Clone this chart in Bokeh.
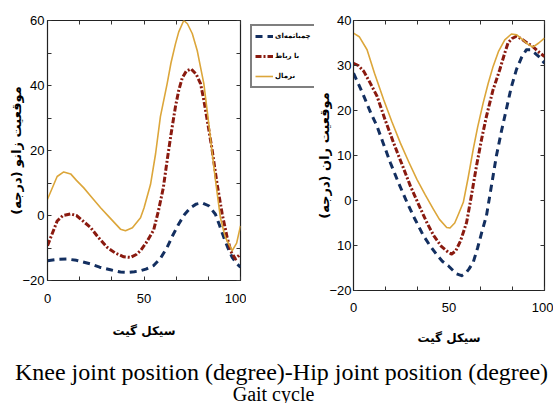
from bokeh.plotting import figure
from bokeh.models import (ColumnDataSource, Legend, LegendItem, LinearAxis,
                          FixedTicker, Range1d, Label)
from bokeh.layouts import column, row
from bokeh.embed import file_html
from bokeh.resources import INLINE

# ---------------- data ----------------
# Knee joint position (degree) vs gait cycle (%)
knee_squat_x = [0, 5, 10.2, 15, 22.3, 27, 32.6, 37.8, 41.3, 45, 48.2, 51, 55, 58.5, 62, 65, 68,
                71, 74.1, 77, 80.1, 83.5, 87, 89, 91.4, 93.5, 95.7, 98, 100]
knee_squat_y = [-13.9, -13.5, -13.4, -13.8, -14.9, -15.9, -16.7, -17.4, -17.5, -17.3, -17.0, -16.5,
                -15.4, -13.2, -9.8, -6.0, -2.6, 0.3, 2.4, 3.5, 3.9, 3.0, 0.4, -2.8, -6.8, -10.0,
                -12.9, -14.8, -15.9]

knee_brace_x = [0, 5, 8, 11.9, 15, 18, 22.3, 26, 30.9, 35, 39.5, 43, 46, 48.2, 51, 55, 57.5, 60,
                62, 64, 66.3, 68, 69.8, 72, 74.4, 77, 79.3, 81, 83, 85.3, 87.9, 90.5, 93.1, 95,
                97.4, 100]
knee_brace_y = [-9.3, -1.7, 0.0, 0.5, 0.0, -1.5, -3.7, -6.5, -9.8, -11.5, -12.7, -12.9, -12.0,
                -10.8, -8.5, -4.5, 1.5, 8.5, 17.0, 25.0, 33.5, 38.5, 42.3, 44.5, 45.1, 43.5, 40.6,
                35.5, 28.5, 20.2, 9.6, 0.5, -6.8, -11.0, -13.4, -11.8]

knee_normal_x = [0, 5, 8.4, 12, 15, 18.8, 22, 27.5, 32, 37.8, 40.4, 44, 48.2, 50, 53.4, 56, 58.5,
                 62, 64, 66.3, 68, 70.6, 72.5, 75, 77.6, 79, 81, 83, 85.3, 87, 89.6, 92, 95.7,
                 98, 100]
knee_normal_y = [5.0, 12.0, 13.4, 12.8, 10.8, 8.5, 6.2, 2.4, -0.5, -4.2, -4.7, -3.8, -0.7, 2.3,
                 9.6, 19.0, 30.4, 40.6, 47.0, 52.8, 56.5, 60.0, 59.0, 56.0, 50.7, 46.5, 40.6,
                 31.0, 19.5, 11.0, -0.7, -6.5, -10.8, -8.5, -3.2]

# Hip joint position (degree) vs gait cycle (%)
hip_squat_x = [0, 2.5, 5.4, 8.5, 12.3, 15.5, 19.3, 23.5, 28, 32, 36.6, 40, 43.5, 46.5, 49.6, 52,
               54, 56.6, 59, 60.5, 62.7, 65, 67, 69.6, 72, 74.8, 77.5, 80, 82.5, 85.3, 88, 90.5,
               92.5, 94.8, 97.5, 100]
hip_squat_y = [28.3, 26.0, 23.2, 20.0, 16.5, 12.8, 8.4, 4.0, -0.4, -4.0, -7.8, -10.0, -12.0,
               -13.5, -14.5, -15.5, -16.3, -16.7, -16.0, -15.2, -13.7, -10.5, -7.3, -3.4, 2.7,
               9.9, 15.5, 20.2, 25.0, 29.1, 31.8, 33.5, 33.5, 32.8, 31.8, 30.5]

hip_brace_x = [0, 2.5, 5.4, 8.5, 12.3, 16.5, 21, 25.5, 29.7, 34, 38.4, 42, 46, 49.6, 51.4, 53.5,
               56, 59.2, 61.5, 64.4, 67, 69.6, 73, 76.6, 79, 80.9, 83, 85.3, 88, 91, 93.9, 97, 100]
hip_brace_y = [30.5, 30.0, 28.7, 26.3, 23.2, 18.0, 12.8, 7.9, 3.3, -0.8, -4.9, -7.8, -10.2,
               -11.5, -11.9, -11.2, -9.0, -4.9, 0.5, 7.7, 13.5, 18.7, 24.5, 29.1, 32.5, 35.0,
               36.0, 36.5, 35.9, 35.0, 34.2, 33.0, 32.0]

hip_normal_x = [0, 3, 7.1, 11, 15.8, 20, 24.5, 29, 33.2, 37.5, 41.8, 45, 48.8, 50.5, 53, 55, 57.5,
                60, 62.7, 65, 67.9, 70.5, 73.1, 76, 79.2, 82.7, 85.5, 88.7, 91, 93.9, 97, 100]
hip_normal_y = [37.2, 36.4, 33.5, 28.3, 22.4, 17.6, 12.8, 8.5, 4.7, 1.3, -1.9, -4.2, -6.0, -6.1,
                -5.0, -3.0, -0.4, 5.0, 11.4, 16.3, 21.7, 26.0, 29.8, 33.2, 35.7, 37.0, 36.8,
                35.7, 34.8, 34.1, 35.0, 36.1]

series_labels = ["چمباتمه‌ای", "با رباط", "نرمال"]
x_title = "سیکل گیت"
knee_title = "موقعیت زانو (درجه)"
hip_title = "موقعیت ران (درجه)"
caption_1 = "Knee joint position (degree)-Hip joint position (degree)"
caption_2 = "Gait cycle"

x_major = [0, 50, 100]
x_minor = [16.67, 33.33, 66.67, 83.33]
knee_major = [-20, 0, 20, 40, 60]
knee_minor = [-10, 10, 30, 50]
hip_major = [-20, -10, 0, 10, 20, 30, 40]
hip_label_override = {-10: "10"}

NAVY = "#132f60"
RED = "#8a1a0f"
GOLD = "#dca63a"
TICK_FONT = "Liberation Sans"
PERSIAN_FONT = "DejaVu Sans"
STYLES = [dict(line_color=NAVY, line_width=3, line_dash="7 5"),
          dict(line_color=RED, line_width=3, line_dash="6 2 2 2"),
          dict(line_color=GOLD, line_width=1.6)]

TOP = 18
BOTTOM = 62


def mirror_axis(ticks, minor):
    # box ticks on the top / right edge, without labels
    return LinearAxis(ticker=FixedTicker(ticks=ticks, minor_ticks=minor),
                      major_label_overrides={t: "" for t in ticks},
                      major_label_text_font_size="0px", major_label_standoff=0,
                      major_tick_in=4, major_tick_out=0, minor_tick_in=4, minor_tick_out=0,
                      axis_line_color=None, major_tick_line_color="#333333",
                      minor_tick_line_color="#333333")


def style_axes(p, xmaj, xmin, ymaj, ymin, xstand, xlabstand, ystand, ylabstand):
    p.xaxis.ticker = FixedTicker(ticks=xmaj, minor_ticks=xmin)
    p.yaxis.ticker = FixedTicker(ticks=ymaj, minor_ticks=ymin)
    for ax in [p.xaxis[0], p.yaxis[0]]:
        ax.major_tick_in = 4
        ax.major_tick_out = 0
        ax.minor_tick_in = 4
        ax.minor_tick_out = 0
        ax.major_tick_line_color = "#333333"
        ax.minor_tick_line_color = "#333333"
        ax.axis_line_color = "#222222"
        ax.major_label_text_font = TICK_FONT
        ax.major_label_text_font_size = "13px"
        ax.major_label_text_color = "black"
        ax.axis_label_text_font = PERSIAN_FONT
        ax.axis_label_text_font_size = "12px"
        ax.axis_label_text_font_style = "bold"
        ax.axis_label_text_color = "black"
    p.yaxis.axis_label_text_font_size = "13px"
    p.xaxis.major_label_standoff = xstand
    p.xaxis.axis_label_standoff = xlabstand
    p.yaxis.major_label_standoff = ystand
    p.yaxis.axis_label_standoff = ylabstand
    p.add_layout(mirror_axis(xmaj, xmin), "above")
    p.add_layout(mirror_axis(ymaj, ymin), "right")
    p.outline_line_color = "#222222"
    p.outline_line_width = 1.2
    p.grid.visible = False


def add_lines(p, xs, ys):
    rs = []
    for x, y, st in zip(xs, ys, STYLES):
        src = ColumnDataSource(dict(x=x, y=y))
        rs.append(p.line("x", "y", source=src, line_join="round", **st))
    return rs


# ---------------- knee (left) ----------------
p1 = figure(width=246, height=342, output_backend="svg", toolbar_location=None,
            x_range=Range1d(0, 100), y_range=Range1d(-20, 60),
            min_border_left=47, min_border_right=6, min_border_top=TOP, min_border_bottom=BOTTOM,
            background_fill_color="white", border_fill_color="white")
add_lines(p1, [knee_squat_x, knee_brace_x, knee_normal_x],
          [knee_squat_y, knee_brace_y, knee_normal_y])
p1.xaxis.axis_label = x_title
p1.yaxis.axis_label = knee_title
style_axes(p1, x_major, x_minor, knee_major, knee_minor, 13, 18, 3, -5)

# ---------------- legend (its own canvas between the two plots) ----------------
# the series are drawn here outside the visible range, only their legend keys show
leg = figure(width=68, height=342, output_backend="svg", toolbar_location=None,
             x_range=Range1d(1000, 1001), y_range=Range1d(1000, 1001),
             x_axis_location=None, y_axis_location=None,
             min_border_left=0, min_border_right=0, min_border_top=TOP + 2,
             min_border_bottom=0, outline_line_color=None,
             background_fill_color="white", border_fill_color="white")
leg.grid.visible = False
leg_rs = add_lines(leg, [hip_squat_x, hip_brace_x, hip_normal_x],
                   [hip_squat_y, hip_brace_y, hip_normal_y])
legend = Legend(items=[LegendItem(label=lab, renderers=[r]) for lab, r in zip(series_labels, leg_rs)],
                location="top_left", orientation="vertical",
                border_line_color="black", border_line_width=2,
                background_fill_color="white", background_fill_alpha=1,
                label_text_font=PERSIAN_FONT, label_text_font_size="7px",
                label_text_font_style="bold", label_text_color="black",
                glyph_width=18, glyph_height=14, label_height=14, label_standoff=2,
                spacing=6, padding=3, margin=4)
leg.add_layout(legend, "center")

# ---------------- hip (right) ----------------
p2 = figure(width=239, height=352, output_backend="svg", toolbar_location=None,
            x_range=Range1d(0, 100), y_range=Range1d(-20, 40),
            min_border_left=39, min_border_right=9, min_border_top=TOP, min_border_bottom=BOTTOM,
            background_fill_color="white", border_fill_color="white")
add_lines(p2, [hip_squat_x, hip_brace_x, hip_normal_x],
          [hip_squat_y, hip_brace_y, hip_normal_y])
p2.xaxis.axis_label = x_title
p2.yaxis.axis_label = hip_title
style_axes(p2, x_major, x_minor, hip_major, [], 12, 16, 2, -6)
p2.yaxis[0].major_label_overrides = hip_label_override

# ---------------- caption ----------------
cap = figure(width=553, height=51, output_backend="svg", toolbar_location=None,
             x_range=Range1d(0, 1), y_range=Range1d(0, 1),
             x_axis_location=None, y_axis_location=None,
             min_border=0, outline_line_color=None)
cap.grid.visible = False
cap.add_layout(Label(x=281, y=32, x_units="screen", y_units="screen", text=caption_1,
                     text_font="Liberation Serif", text_font_size="24px",
                     text_align="center", text_baseline="alphabetic", text_color="black"))
cap.add_layout(Label(x=273, y=10, x_units="screen", y_units="screen", text=caption_2,
                     text_font="Liberation Serif", text_font_size="20px",
                     text_align="center", text_baseline="alphabetic", text_color="black"))

layout = column(row(p1, leg, p2, spacing=0), cap, spacing=0)
open("out.html", "w").write(file_html(layout, INLINE))
